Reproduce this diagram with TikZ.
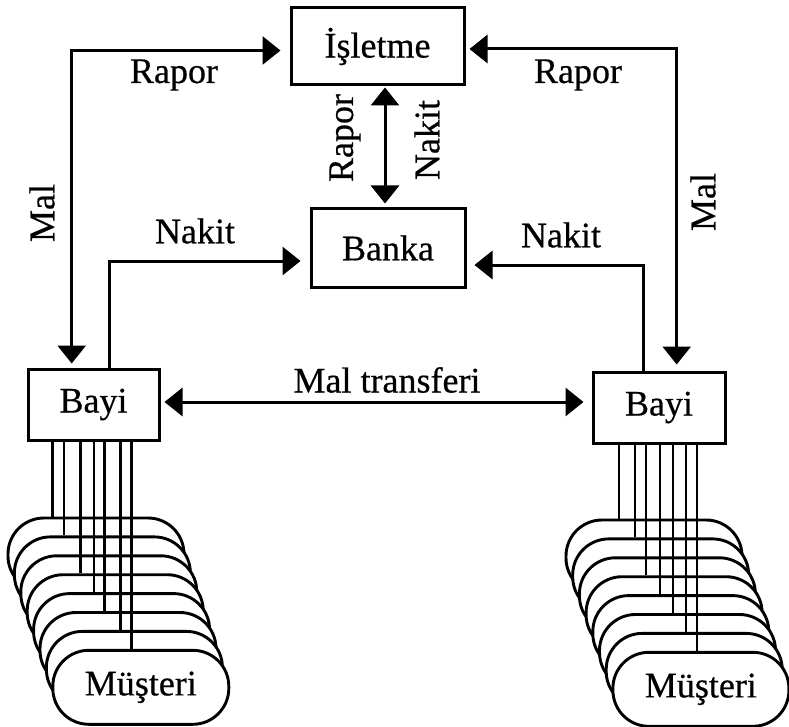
\documentclass[tikz,border=0pt]{standalone}
\usepackage{fontspec}
\setmainfont{Liberation Serif}[FakeBold=0.5]
\usetikzlibrary{arrows.meta}
\begin{document}
\begin{tikzpicture}[x=1pt,y=-1pt,
  every node/.style={font=\fontsize{36}{40}\selectfont, inner sep=0pt},
  lbl/.style={},
  box/.style={draw, line width=3pt, fill=white},
  musteri/.style={draw, line width=2.9pt, fill=white, rounded corners=36pt,
    minimum width=176pt, minimum height=74pt},
  flow/.style={line width=3pt},
  onehead/.style={flow, -{Triangle[length=18pt,width=28pt]}},
  twohead/.style={flow, {Triangle[length=18pt,width=28pt]}-{Triangle[length=18pt,width=28pt]}},
  wire/.style={line width=2.8pt}
]
\useasboundingbox (0,0) rectangle (789,727);

% boxes
\node[box, minimum width=173pt, minimum height=77pt] (isl) at (377.5,46.5) {İşletme};
\node[box, minimum width=154pt, minimum height=78pt] (banka) at (388,248) {Banka};
\node[box, minimum width=131pt, minimum height=71pt] (bayiL) at (93.5,404.5) {Bayi};
\node[box, minimum width=132pt, minimum height=71pt] (bayiR) at (659,407.5) {Bayi};

% corner points of the connectors
\coordinate (cL) at (71.7,50.5);
\coordinate (cR) at (676.7,49);
\coordinate (cV) at (385,150);
\coordinate (nL) at (109,261);
\coordinate (nR) at (643,265);
\coordinate (mt) at (387,402);

% connectors
\draw[twohead, shorten <=4pt, shorten >=9pt] (cL |- bayiL.north) -- (cL) -- (cL -| isl.west);
\draw[twohead, shorten <=6pt, shorten >=4pt] (cR |- bayiR.north) -- (cR) -- (cR -| isl.east);
\draw[twohead, shorten <=1pt, shorten >=4pt] (cV |- isl.south) -- (cV |- banka.north);
\draw[onehead, shorten >=9pt] (nL |- bayiL.north) -- (nL) -- (nL -| banka.west);
\draw[onehead, shorten >=8pt] (nR |- bayiR.north) -- (nR) -- (nR -| banka.east);
\draw[twohead, shorten <=4pt, shorten >=8pt] (mt -| bayiL.east) -- (mt -| bayiR.west);

% labels
\node[lbl] (rL) at (174,75) {Rapor};
\node[lbl] (rR) at (578,75) {Rapor};
\node[lbl, rotate=90] (malL) at (42,213) {Mal};
\node[lbl, rotate=90] (malR) at (703,202) {Mal};
\node[lbl, rotate=90] (rV) at (345,138) {Rapor};
\node[lbl, rotate=90] (nV) at (427,140) {Nakit};
\node[lbl] (nkL) at (195,231) {Nakit};
\node[lbl] (nkR) at (561,235) {Nakit};
\node[lbl] (mtl) at (387,380) {Mal transferi};

% customer stacks, back to front
\foreach \i in {1,...,8}{
  \node[musteri] (cl\i) at ({96+6.4*(\i-1)},{555+18.9*(\i-1)}) {};
  \node[musteri] (cr\i) at ({654+6.7*(\i-1)},{557+18.9*(\i-1)}) {};
}
\node[lbl] (mL) at (cl8) {Müşteri};
\node[lbl] (mR) at (cr8) {Müşteri};

% wires from each dealer to its customers
\foreach \x/\k in {52.7/1, 64/2, 80.5/4, 94/5, 104.5/6, 120.7/7, 131.7/8}
  \draw[wire] (bayiL.south -| \x,0) -- (cl\k.north -| \x,0);
\foreach \x/\k in {619/1, 635/2, 646/4, 660/5, 673/6, 686/7, 697/8}
  \draw[wire] (bayiR.south -| \x,0) -- (cr\k.north -| \x,0);
\end{tikzpicture}
\end{document}
